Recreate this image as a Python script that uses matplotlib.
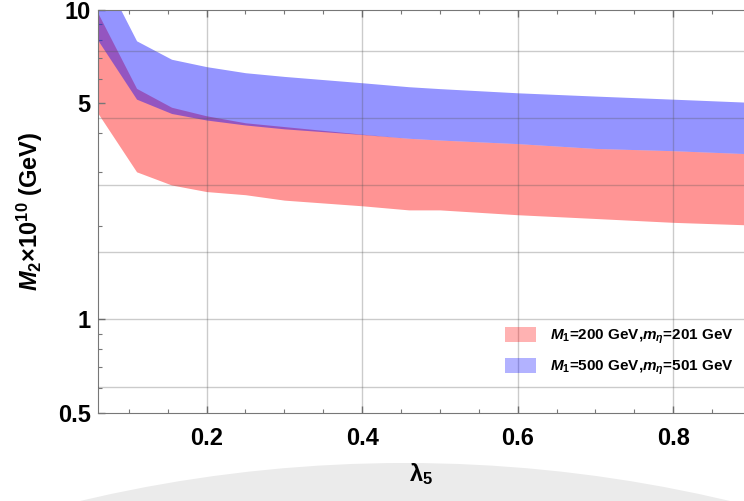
import numpy as np
import matplotlib
matplotlib.use('Agg')
import matplotlib.pyplot as plt
from matplotlib.ticker import FixedLocator, FixedFormatter, LogLocator, NullFormatter, MultipleLocator
from matplotlib.patches import Patch, Circle

plt.rcParams['font.family'] = 'Liberation Sans'
plt.rcParams['font.weight'] = 'bold'
plt.rcParams['mathtext.fontset'] = 'custom'
plt.rcParams['mathtext.rm'] = 'Liberation Sans:bold'
plt.rcParams['mathtext.it'] = 'Liberation Sans:bold:italic'
plt.rcParams['mathtext.bf'] = 'Liberation Sans:bold'

# lambda_5 scan points
lam5 = [0.06, 0.11, 0.155, 0.2, 0.25, 0.3, 0.4, 0.46, 0.5, 0.6, 0.7, 0.8, 0.9]

# allowed M_2 range (units of 1e10 GeV), M1 = 200 GeV
m2_200_lo = [4.65, 3.00, 2.72, 2.59, 2.53, 2.43, 2.33, 2.26, 2.26, 2.18, 2.12, 2.06, 2.02]
m2_200_hi = [9.80, 5.58, 4.85, 4.55, 4.32, 4.20, 3.97, 3.85, 3.80, 3.70, 3.57, 3.51, 3.43]

# allowed M_2 range (units of 1e10 GeV), M1 = 500 GeV
m2_500_lo = [8.00, 5.15, 4.63, 4.41, 4.25, 4.13, 3.96, 3.85, 3.80, 3.70, 3.57, 3.51, 3.43]
m2_500_hi = [14.0, 7.95, 6.93, 6.56, 6.27, 6.10, 5.82, 5.65, 5.57, 5.40, 5.27, 5.15, 5.03]

labels = [r'$M_1$=200 GeV,$m_\eta$=201 GeV', r'$M_1$=500 GeV,$m_\eta$=501 GeV']
yticks = [0.5, 1, 5, 10]
ytick_labels = ['0.5', '1', '5', '10']

fig = plt.figure(figsize=(7.44, 5.01), dpi=100)
ax = fig.add_axes([0.1313, 0.1763, 0.8687, 0.8038])

# faint seal arc in the background
seal = Circle((4.05, -13.71), 14.09, transform=fig.dpi_scale_trans,
              facecolor='#ebebeb', edgecolor='none', zorder=-10)
fig.patches.append(seal)

ax.fill_between(lam5, m2_200_lo, m2_200_hi, color='red', alpha=0.42, linewidth=0, zorder=1)
ax.fill_between(lam5, m2_500_lo, m2_500_hi, color='blue', alpha=0.42, linewidth=0, zorder=2)

ax.set_yscale('log')
ax.set_xlim(0.06, 0.891)
ax.set_ylim(0.5, 10)

# grid lines: log-spaced in e^(k/2) and every 0.2 in x
for g in np.exp(np.arange(-1, 5) / 2):
    ax.axhline(g, color='#555555', alpha=0.3, linewidth=1, zorder=3)
for g in [0.2, 0.4, 0.6, 0.8]:
    ax.axvline(g, color='#555555', alpha=0.3, linewidth=1, zorder=3)

ax.yaxis.set_major_locator(FixedLocator(yticks))
ax.yaxis.set_major_formatter(FixedFormatter(ytick_labels))
ax.yaxis.set_minor_locator(LogLocator(base=10, subs=np.arange(2, 10)))
ax.yaxis.set_minor_formatter(NullFormatter())
ax.xaxis.set_major_locator(MultipleLocator(0.2))
ax.xaxis.set_minor_locator(MultipleLocator(0.05))

ax.tick_params(which='both', direction='in', colors='#777777', top=True, right=False,
               labelcolor='black', labelsize=17)
ax.tick_params(which='major', length=5, width=1)
ax.tick_params(which='minor', length=3, width=0.8)
ax.tick_params(axis='x', which='major', pad=10)
ax.tick_params(axis='y', which='major', pad=5)

for s in ['left', 'bottom', 'top']:
    ax.spines[s].set_color('#777777')
ax.spines['right'].set_visible(False)

ax.set_xlabel('λ$_5$', fontsize=17, fontweight='bold', labelpad=8)
ax.set_ylabel(r'$M_2$×10$^{10}$ (GeV)', fontsize=17, fontweight='bold', labelpad=9)

handles = [Patch(facecolor='red', alpha=0.3, edgecolor='none'),
           Patch(facecolor='blue', alpha=0.3, edgecolor='none')]
ax.legend(handles, labels, loc='lower right', bbox_to_anchor=(1.005, 0.055), frameon=False,
          fontsize=11, handlelength=2.0, handleheight=1.1, labelspacing=0.75, handletextpad=0.9)

fig.savefig('out.png', dpi=100)
